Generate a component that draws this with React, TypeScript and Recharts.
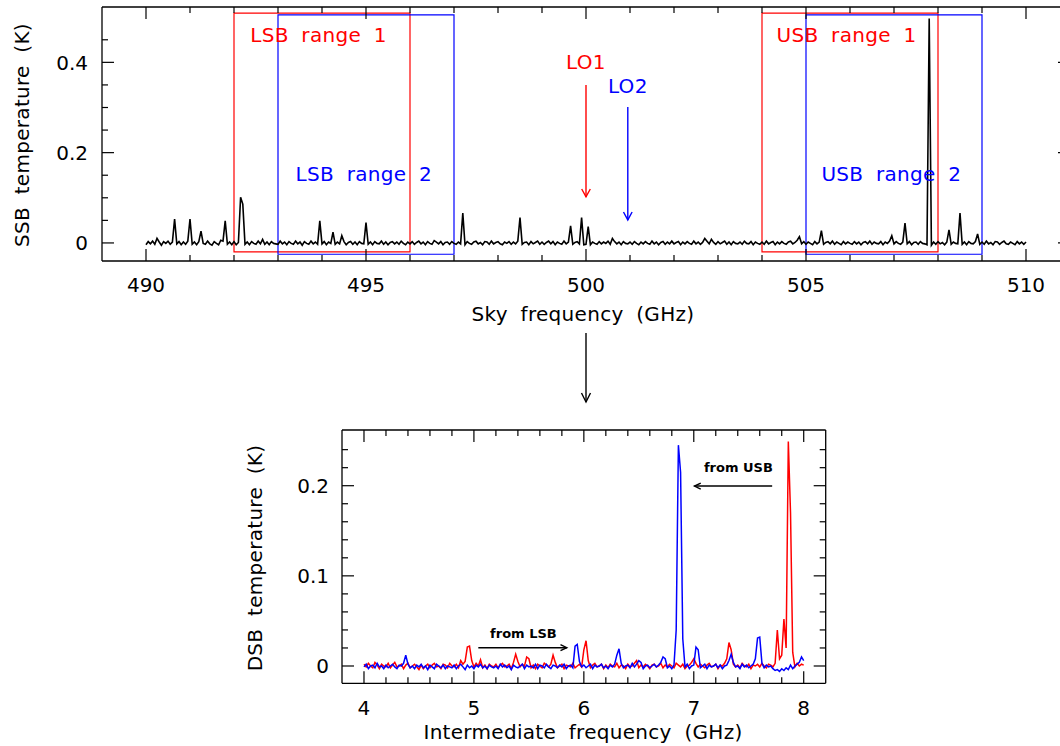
import { LineChart, Line, XAxis, YAxis, ReferenceArea, ReferenceLine, ReferenceDot } from 'recharts'

// SSB spectrum on the sky-frequency axis, one sample every 0.05 GHz from 490 GHz (mK)
const skyStart = 490
const skyStep = 0.05
const skyTemp_mK = [
  -4, 3, -2, 4, -3, 10, 2, -5, 3, -1, 4, -3, 2, 53, -2, 3, -4, 2, -3, 4, // 490
  53, -3, 2, -4, 3, 26, -1, -3, 4, -2, -5, 3, -1, -4, 6, 4, 49, -3, 2, -4, // 491
  3, -4, 1, 101, 86, -3, 2, -4, 3, -1, -3, 4, -2, 8, -3, 2, -4, 3, -1, -2, // 492
  -3, 4, -2, 2, -4, 3, -1, -3, 4, -2, 2, -5, 3, -1, -3, 4, -2, 2, -3, 49, // 493
  -2, 3, -4, 2, -1, 24, -3, 2, -2, 16, 3, -4, 1, 3, -3, 2, -4, 3, -1, -2, // 494
  45, -3, 2, -4, 3, -1, -2, 4, -3, 2, -4, 1, 3, -2, 2, -3, 4, -1, -4, 2, // 495
  -2, 3, -3, 1, 4, -2, 2, -4, 3, -1, -3, 5, 2, -2, 3, -4, 1, 2, -3, 3, // 496
  -1, -3, 2, -2, 66, -4, 3, -1, -3, 2, 4, -2, 1, -4, 3, 2, -3, 4, -2, 1, // 497
  3, -2, -4, 2, -1, 3, -3, 2, -2, 4, 56, -3, 1, 2, -4, 3, -2, 1, 4, -3, // 498
  2, -3, 1, 4, -2, 3, -4, 2, -1, -3, 4, -2, 2, 38, -3, 1, 3, -2, 56, -4, // 499
  -3, 36, -4, 2, -1, -3, 3, -2, 2, -1, 4, -3, 10, 3, -2, 2, -4, 3, -1, -2, // 500
  2, -3, 3, -1, -4, 2, -2, 3, -1, -3, 4, -2, 2, -4, 1, 3, -3, 2, -2, 4, // 501
  -2, 1, 3, -4, 2, -2, 3, -1, -3, 4, -2, 2, -3, 1, 10, 4, -2, 8, 1, -3, // 502
  3, -2, 1, 4, -3, 2, -4, 3, -1, -2, 2, -3, 4, -1, -2, 3, -4, 2, -1, -3, // 503
  2, -3, 4, -2, 1, 3, -4, 2, -2, 3, -1, -3, 2, 4, -2, 1, 6, 14, -2, 3, // 504
  -3, 2, -1, -4, 3, -2, 2, 27, -3, 1, 3, -2, 4, -3, 2, -1, -4, 3, -2, 2, // 505
  -1, -3, 3, -2, 2, -4, 1, 3, -2, 4, -3, 2, -1, -2, 3, -4, 2, -1, 4, 16, // 506
  -2, 3, -1, -3, 2, 44, -2, 3, -4, 1, 2, -3, 3, -1, -2, -4, 497, -5, 2, -3, // 507
  3, -2, 1, -4, 2, 29, -3, 2, -1, -2, 66, -3, 2, -4, 3, -1, -2, 3, 20, -3, // 508
  2, -3, 4, -2, 1, -4, 3, 2, -3, 1, 4, -2, -3, 2, -1, -4, 3, -2, 2, -3, // 509
  2,
]

const skyTicks = [490, 491, 492, 493, 494, 495, 496, 497, 498, 499, 500, 501, 502, 503, 504, 505, 506, 507, 508, 509, 510]
const skyMajor = [490, 495, 500, 505, 510]
const ssbTicks = [0, 0.05, 0.1, 0.15, 0.2, 0.25, 0.3, 0.35, 0.4, 0.45]
const ssbMajor = [0, 0.2, 0.4]

// sideband windows seen by each local oscillator (GHz)
const bandNames = ['LSB range 1', 'LSB range 2', 'USB range 1', 'USB range 2']
const bandFrom = [492, 493, 504, 505]
const bandTo = [496, 497, 508, 509]
const loNames = ['LO1', 'LO2']
const loFreq = [500, 500.95]

// DSB spectra on the IF axis, one sample every 0.02 GHz from 4 GHz (mK)
const ifStart = 4
const ifStep = 0.02
const ifRed_mK = [
  2, -1, 3, 0, -2, 4, 1, -3, 2, 0,
  -1, 3, -2, 1, 4, -1, 0, 2, -3, 1,
  3, -2, 0, 2, -1, -4, 1, -3, 0, 2,
  -2, 1, 3, -1, 0, -3, 2, 1, -2, 3,
  0, -1, 2, -2, 6, 2, 5, 21, 22, 6,
  -1, 3, 0, 7, -2, 1, -3, 2, 0, -1,
  2, -2, 1, 3, -1, 0, 2, -3, 4, 13,
  5, -1, 2, 0, 10, 8, -2, 1, -3, 2,
  0, -2, 3, 1, -1, 2, 12, 4, -2, 0,
  2, -3, 1, 0, -1, 3, -2, 0, 2, -1,
  18, 28, 6, -2, 1, 3, -1, 0, 2, -3,
  1, -2, 2, 0, -1, 3, -2, 1, 0, -3,
  2, -1, 0, 3, 6, -2, 1, -1, 2, 0,
  -3, 1, 2, -1, 0, 3, -2, 1, -1, 2,
  0, -2, 3, 1, -1, 2, -3, 0, 1, 4,
  8, 3, -1, 2, 0, -2, 1, 3, -1, 0,
  2, -3, 1, 0, 3, 8, 26, 18, 2, -1,
  1, -2, 3, 0, -1, 2, -3, 1, 0, 2,
  -1, 3, 0, -2, 2, 1, -1, 3, 40, 8,
  12, 52, 20, 249, 170, 15, -1, 3, 0, 2,
  1,
]
const ifBlue_mK = [
  -1, 2, -3, 0, 1, -2, 3, -1, 0, -3,
  1, -2, 0, 2, -1, -3, 1, 0, 3, 12,
  2, -2, 0, -3, 1, -1, 2, -2, 0, -4,
  1, -1, -3, 2, 0, -2, 1, -3, 0, -1,
  -2, 1, -3, 0, 2, -1, -4, 1, -2, 0,
  -3, 1, -1, 2, -2, 0, -3, 1, -1, -2,
  0, -3, 2, -1, 1, -2, 0, -4, 1, -1,
  -2, 0, 2, -3, 1, -1, 0, -2, 2, -3,
  1, 0, -2, 2, -1, -3, 1, 0, -2, 1,
  -1, 2, -3, 0, 1, -2, 22, 24, 5, -1,
  1, -2, 0, 2, -3, 1, -1, 0, 2, -2,
  0, -3, 1, -1, 2, 12, 19, 3, -2, 0,
  1, -2, 3, -1, 2, 6, 4, -3, 0, 1,
  -2, 0, 2, -1, 1, 4, 10, 8, -2, 0,
  -3, 1, 40, 245, 215, 30, -1, 2, -3, 0,
  1, 21, 18, -2, 0, 2, -3, 1, -1, 0,
  2, -2, 1, -3, 0, 1, 6, 13, 4, -1,
  0, -3, 2, -1, 1, -2, 0, 2, 8, 31,
  32, 3, -2, 1, -1, 0, -3, -5, -4, -6,
  -3, -5, -2, -4, 1, -3, 0, 2, 4, 10,
  6,
]

const ifTicks = [4, 4.2, 4.4, 4.6, 4.8, 5, 5.2, 5.4, 5.6, 5.8, 6, 6.2, 6.4, 6.6, 6.8, 7, 7.2, 7.4, 7.6, 7.8, 8]
const ifMajor = [4, 5, 6, 7, 8]
const dsbTicks = [0, 0.02, 0.04, 0.06, 0.08, 0.1, 0.12, 0.14, 0.16, 0.18, 0.2, 0.22, 0.24]
const dsbMajor = [0, 0.1, 0.2]

const skyData = skyTemp_mK.map((t, i) => ({ f: skyStart + i * skyStep, t: t / 1000 }))
const ifData = ifRed_mK.map((r, i) => ({ f: ifStart + i * ifStep, red: r / 1000, blue: ifBlue_mK[i] / 1000 }))

const FONT = '"DejaVu Sans", Verdana, sans-serif'
const RED = '#ff0000'
const BLUE = '#0000ff'
const INK = '#000'
const AXIS = { stroke: INK, strokeWidth: 1.3 }
const wideText = { wordSpacing: '6px', letterSpacing: '0.3px' }

const near = (list: number[], v: number) => list.some((m) => Math.abs(m - v) < 1e-6)

type Side = 'bottom' | 'top' | 'left' | 'right'

// inward tick marks, long on major values, with the number outside the frame
const makeTick = (side: Side, majors: number[], gap = 0) => (props: any) => {
  const { x, y, payload } = props
  const v = payload.value as number
  const major = near(majors, v)
  const len = major ? 12 : 6
  const dx = side === 'left' ? len : side === 'right' ? -len : 0
  const dy = side === 'bottom' ? -len : side === 'top' ? len : 0
  const label = gap > 0 && major
  return (
    <g>
      <line x1={x} y1={y} x2={x + dx} y2={y + dy} stroke={INK} strokeWidth={1.2} />
      {label && side === 'bottom' && (
        <text x={x} y={y + gap} dy="0.36em" textAnchor="middle" fontSize={20} fontFamily={FONT} fill={INK}>
          {String(v)}
        </text>
      )}
      {label && side === 'left' && (
        <text x={x - gap} y={y} dy="0.36em" textAnchor="end" fontSize={20} fontFamily={FONT} fill={INK}>
          {String(v)}
        </text>
      )}
    </g>
  )
}

// straight arrow with an open V head at the second point
const arrowShape = (color: string, head: number, spread: number) => (p: any) => {
  const { x1, y1, x2, y2 } = p
  const a = Math.atan2(y2 - y1, x2 - x1)
  const hx1 = x2 - head * Math.cos(a - spread)
  const hy1 = y2 - head * Math.sin(a - spread)
  const hx2 = x2 - head * Math.cos(a + spread)
  const hy2 = y2 - head * Math.sin(a + spread)
  return (
    <g>
      <line x1={x1} y1={y1} x2={x2} y2={y2} stroke={color} strokeWidth={1.4} />
      <polyline points={`${hx1},${hy1} ${x2},${y2} ${hx2},${hy2}`} fill="none" stroke={color} strokeWidth={1.4} />
    </g>
  )
}

const textShape = (label: string, color: string, size: number, bold = false) => (p: any) => (
  <text
    x={p.cx}
    y={p.cy}
    dy="0.36em"
    textAnchor="middle"
    fill={color}
    fontSize={size}
    fontFamily={FONT}
    fontWeight={bold ? 'bold' : 'normal'}
    style={bold ? undefined : wideText}
  >
    {label}
  </text>
)

const bandColor = (i: number) => (i % 2 === 0 ? RED : BLUE)
const bandTop = [0.509, 0.505, 0.509, 0.505]
const bandBottom = [-0.02, -0.025, -0.02, -0.025]
const bandLabelAt = [
  { x: 493.92, y: 0.46 },
  { x: 494.95, y: 0.154 },
  { x: 505.92, y: 0.46 },
  { x: 506.94, y: 0.154 },
]

// the frame's top and right edges come from a second pair of 1px-thick axes
// (recharts skips drawing an axis whose box is zero-sized)
const frameAxes = (xDomain: number[], yDomain: number[], xTicks: number[], xMajor: number[], yTicks: number[], yMajor: number[]) => [
  <XAxis
    key="top"
    xAxisId="top"
    orientation="top"
    type="number"
    dataKey="f"
    domain={xDomain}
    allowDataOverflow
    ticks={xTicks}
    interval={0}
    height={1}
    tickSize={0}
    tickMargin={0}
    tickLine={false}
    axisLine={AXIS}
    tick={makeTick('top', xMajor)}
  />,
  <YAxis
    key="right"
    yAxisId="right"
    orientation="right"
    type="number"
    domain={yDomain}
    allowDataOverflow
    ticks={yTicks}
    interval={0}
    width={1}
    tickSize={0}
    tickMargin={0}
    tickLine={false}
    axisLine={AXIS}
    tick={makeTick('right', yMajor)}
  />,
]

const SKY_X = [489, 511]
const SSB_Y = [-0.04, 0.5226]

const SkyPanel = () => (
  <LineChart width={1080} height={330} data={skyData} margin={{ top: 6, right: 9, left: 0, bottom: 0 }}>
    <XAxis
      type="number"
      dataKey="f"
      domain={SKY_X}
      allowDataOverflow
      ticks={skyTicks}
      interval={0}
      height={69}
      tickSize={0}
      tickMargin={0}
      tickLine={false}
      axisLine={AXIS}
      tick={makeTick('bottom', skyMajor, 23.5)}
    />
    <YAxis
      type="number"
      domain={SSB_Y}
      allowDataOverflow
      ticks={ssbTicks}
      interval={0}
      width={102}
      tickSize={0}
      tickMargin={0}
      tickLine={false}
      axisLine={AXIS}
      tick={makeTick('left', ssbMajor, 14)}
    />
    {frameAxes(SKY_X, SSB_Y, skyTicks, skyMajor, ssbTicks, ssbMajor)}
    <Line
      xAxisId="top"
      yAxisId="right"
      dataKey="t"
      stroke="none"
      dot={false}
      activeDot={false}
      legendType="none"
      isAnimationActive={false}
    />
    <Line type="linear" dataKey="t" stroke={INK} strokeWidth={1.6} dot={false} isAnimationActive={false} />
    {bandNames.map((name, i) => (
      <ReferenceArea
        key={name}
        x1={bandFrom[i]}
        x2={bandTo[i]}
        y1={bandBottom[i]}
        y2={bandTop[i]}
        fill="none"
        stroke={bandColor(i)}
        strokeWidth={1.2}
      />
    ))}
    {bandNames.map((name, i) => (
      <ReferenceDot
        key={`${name}-label`}
        x={bandLabelAt[i].x}
        y={bandLabelAt[i].y}
        r={0}
        shape={textShape(name, bandColor(i), 20)}
      />
    ))}
    <ReferenceDot x={loFreq[0]} y={0.401} r={0} shape={textShape(loNames[0], RED, 20)} />
    <ReferenceDot x={loFreq[1]} y={0.348} r={0} shape={textShape(loNames[1], BLUE, 20)} />
    <ReferenceLine
      segment={[{ x: loFreq[0], y: 0.35 }, { x: loFreq[0], y: 0.102 }]}
      stroke={RED}
      shape={arrowShape(RED, 9, 0.5)}
    />
    <ReferenceLine
      segment={[{ x: loFreq[1], y: 0.301 }, { x: loFreq[1], y: 0.051 }]}
      stroke={BLUE}
      shape={arrowShape(BLUE, 9, 0.5)}
    />
  </LineChart>
)

const IF_X = [3.8, 8.2]
const DSB_Y = [-0.0192, 0.2618]

const IfPanel = () => (
  <LineChart width={600} height={326} data={ifData} margin={{ top: 9, right: 13.3, left: 0, bottom: 0 }}>
    <XAxis
      type="number"
      dataKey="f"
      domain={IF_X}
      allowDataOverflow
      ticks={ifTicks}
      interval={0}
      height={62.7}
      tickSize={0}
      tickMargin={0}
      tickLine={false}
      axisLine={AXIS}
      tick={makeTick('bottom', ifMajor, 24.7)}
    />
    <YAxis
      type="number"
      domain={DSB_Y}
      allowDataOverflow
      ticks={dsbTicks}
      interval={0}
      width={102}
      tickSize={0}
      tickMargin={0}
      tickLine={false}
      axisLine={AXIS}
      tick={makeTick('left', dsbMajor, 13)}
    />
    {frameAxes(IF_X, DSB_Y, ifTicks, ifMajor, dsbTicks, dsbMajor)}
    <Line
      xAxisId="top"
      yAxisId="right"
      dataKey="red"
      stroke="none"
      dot={false}
      activeDot={false}
      legendType="none"
      isAnimationActive={false}
    />
    <Line type="linear" dataKey="red" stroke={RED} strokeWidth={1.5} dot={false} isAnimationActive={false} />
    <Line type="linear" dataKey="blue" stroke={BLUE} strokeWidth={1.5} dot={false} isAnimationActive={false} />
    <ReferenceDot x={5.45} y={0.036} r={0} shape={textShape('from LSB', INK, 13, true)} />
    <ReferenceLine
      segment={[{ x: 5.04, y: 0.0203 }, { x: 5.845, y: 0.0203 }]}
      stroke={INK}
      shape={arrowShape(INK, 7, 0.45)}
    />
    <ReferenceDot x={7.406} y={0.2203} r={0} shape={textShape('from USB', INK, 13, true)} />
    <ReferenceLine
      segment={[{ x: 7.713, y: 0.1996 }, { x: 7.006, y: 0.1996 }]}
      stroke={INK}
      shape={arrowShape(INK, 7, 0.45)}
    />
  </LineChart>
)

const titleProps = {
  fontSize: 20,
  fontFamily: FONT,
  fill: INK,
  textAnchor: 'middle' as const,
  dy: '0.36em',
  style: wideText,
}

export default function App() {
  return (
    <div
      style={{
        position: 'fixed',
        left: 0,
        top: 0,
        width: 1060,
        height: 746,
        overflow: 'hidden',
        background: '#fff',
      }}
    >
      <div style={{ position: 'absolute', left: 0, top: 0 }}>
        <SkyPanel />
      </div>
      <div style={{ position: 'absolute', left: 240, top: 420 }}>
        <IfPanel />
      </div>
      <svg width={1060} height={746} style={{ position: 'absolute', left: 0, top: 0, pointerEvents: 'none' }}>
        <text {...titleProps} transform="translate(21.5,135) rotate(-90)">
          SSB temperature (K)
        </text>
        <text {...titleProps} x={583} y={313.5}>
          Sky frequency (GHz)
        </text>
        {/* the sky spectrum folds into the IF band below */}
        <line x1={586} y1={333} x2={586} y2={402} stroke={INK} strokeWidth={1.4} />
        <polyline points="581.5,393 586,402 590.5,393" fill="none" stroke={INK} strokeWidth={1.4} />
        <text {...titleProps} transform="translate(255,558) rotate(-90)">
          DSB temperature (K)
        </text>
        <text {...titleProps} x={583} y={732}>
          Intermediate frequency (GHz)
        </text>
      </svg>
    </div>
  )
}
